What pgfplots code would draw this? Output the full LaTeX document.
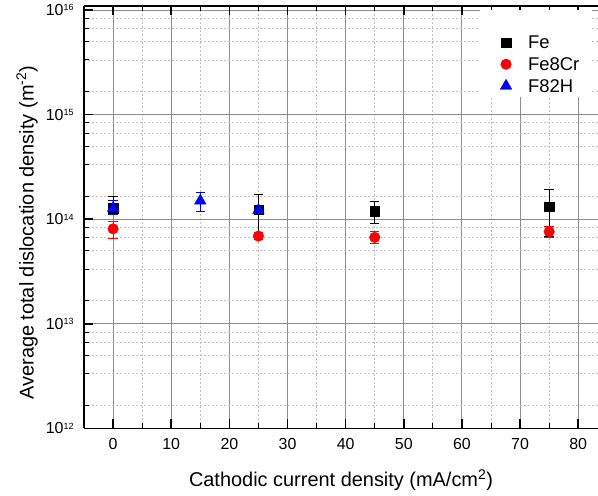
\documentclass[border=0pt]{standalone}
\usepackage{pgfplots}
\pgfplotsset{compat=1.18}
\usepackage{fontspec}
\setmainfont{Liberation Sans}
\newcommand{\tp}[1]{10\raisebox{4.7bp}{\fontsize{9}{10}\selectfont #1}}
\begin{document}
\begin{tikzpicture}
\begin{axis}[
  at={(0,0)}, anchor=south west,
  scale only axis, width=513.8bp, height=422.6bp,
  xmin=-5, xmax=83.4,
  ymode=log, ymin=1e12, ymax=1.1e16,
  axis x line*=box, axis y line*=left,
  axis line style={line width=1.8bp, black, -},
  tick align=inside,
  xtick={0,10,...,80},
  minor xtick={5,15,...,75},
  ytick={1e12,1e13,1e14,1e15,1e16},
  yticklabels={\tp{12},\tp{13},\tp{14},\tp{15},\tp{16}},
  minor ytick={1.6667e12,3.3333e12,5e12,6.6667e12,8.3333e12,
               1.6667e13,3.3333e13,5e13,6.6667e13,8.3333e13,
               1.6667e14,3.3333e14,5e14,6.6667e14,8.3333e14,
               1.6667e15,3.3333e15,5e15,6.6667e15,8.3333e15},
  major tick length=9bp, minor tick length=5bp,
  major tick style={line width=1.5bp, black},
  minor tick style={line width=1bp, black},
  grid=both,
  major grid style={solid, line width=1bp, black!45},
  minor grid style={dash pattern=on 2bp off 2bp, line width=0.8bp, black!25},
  /pgf/number format/assume math mode=true,
  tick label style={font=\fontsize{16}{18}\selectfont},
  xticklabel style={yshift=-6.5bp},
  yticklabel style={xshift=-7bp},
  xlabel={Cathodic current density (mA/cm\textsuperscript{2})},
  ylabel={Average total dislocation density (m\textsuperscript{-2})},
  label style={font=\fontsize{20}{24}\selectfont},
  xlabel style={at={(axis description cs:0.5,0)}, anchor=base, yshift=-58.4bp},
  ylabel style={at={(axis description cs:-0.111,0.463)}, anchor=center},
  legend style={at={(axis description cs:0.809,0.939)}, anchor=north west,
    draw=none, fill=none, font=\fontsize{18.5}{22}\selectfont, row sep=0bp,
    inner xsep=0bp, inner ysep=0bp,
    nodes={text height=15bp, text depth=2.7bp, inner ysep=2bp, inner xsep=3bp}},
  legend cell align=left,
  legend image code/.code={\path[draw=none,fill=none] (-6bp,0bp) rectangle (19bp,0.1bp); \draw[#1] plot coordinates {(0bp,0bp)};},
  error bars/y dir=both, error bars/y explicit,
]
\fill[white] (axis description cs:0.771,0.784) rectangle (axis description cs:0.989,0.990);
\addplot[only marks, mark=square*, mark size=4.7bp, black,
  error bars/error bar style={line width=1bp, black},
  error bars/error mark options={rotate=90, mark size=4.7bp, line width=1bp, black}]
  table[x=x, y=y, y error plus=ep, y error minus=em] {
x  y        ep       em
0  1.28e14  0.38e14  0.18e14
25 1.24e14  0.49e14  0.49e14
45 1.19e14  0.29e14  0.28e14
75 1.31e14  0.60e14  0.62e14
};
\addlegendentry{Fe}
\addplot[only marks, mark=*, mark size=5.3bp, red,
  error bars/error bar style={line width=1bp, red},
  error bars/error mark options={rotate=90, mark size=4.7bp, line width=1bp, red}]
  table[x=x, y=y, y error plus=ep, y error minus=em] {
x  y        ep       em
0  8.1e13   1.4e13   1.6e13
25 6.9e13   0.5e13   0.5e13
45 6.7e13   0.9e13   0.9e13
75 7.6e13   0.9e13   0.9e13
};
\addlegendentry{Fe8Cr}
\addplot[only marks, mark=triangle*, mark size=6.7bp, blue,
  error bars/error bar style={line width=1bp, blue},
  error bars/error mark options={rotate=90, mark size=4.7bp, line width=1bp, blue}]
  table[x=x, y=y, y error plus=ep, y error minus=em] {
x  y        ep       em
0  1.28e14  0.22e14  0.18e14
15 1.50e14  0.29e14  0.31e14
25 1.22e14  0.08e14  0.08e14
};
\addlegendentry{F82H}
\end{axis}
\pgfresetboundingbox
\path (-84bp,-66.7bp) rectangle (513.8bp,428.3bp);
\end{tikzpicture}
\end{document}
